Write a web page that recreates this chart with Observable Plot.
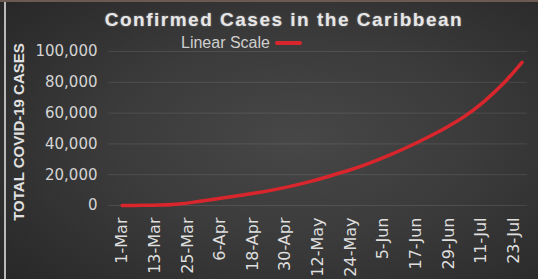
<!DOCTYPE html>
<html>
<head>
<meta charset="utf-8">
<script src="https://cdn.jsdelivr.net/npm/d3@7"></script>
<script src="https://cdn.jsdelivr.net/npm/@observablehq/plot@0.6"></script>
<style>
  html, body { margin: 0; padding: 0; background: #1e1e1e; }
  #chart {
    position: relative; width: 538px; height: 279px; overflow: hidden;
    background: radial-gradient(ellipse 75% 80% at 55% 50%, #474747 0%, #3b3b3b 45%, #262626 100%);
    font-family: "Liberation Sans", Arial, sans-serif;
  }
  #chart::before { content: ""; position: absolute; left: 4px; top: 0; bottom: 0; width: 2px; background: #b9b9b9; }
  #chart::after { content: ""; position: absolute; left: 0; right: 0; top: 0; height: 2px; background: #6b5a50; }
  #title {
    position: absolute; left: 0; width: 568px; top: 9px; text-align: center;
    color: #e6e6e6; font-weight: bold; font-size: 19px; letter-spacing: 1.5px;
    text-shadow: 0 0 2px #888;
  }
  #legend { position: absolute; left: 181px; top: 34px; color: #cfcfcf; font-size: 16px; display: flex; align-items: center; }
  #legend .sw { display: inline-block; width: 27px; height: 4px; background: #d8262c; margin-left: 5px; border-radius: 2px; }
  #ylabel {
    position: absolute; left: 18px; top: 132px; transform: translate(-50%, -50%) rotate(-90deg);
    white-space: nowrap; color: #e0e0e0; font-weight: bold; font-size: 15px;
  }
  #plot { position: absolute; left: 0; top: 0; }
  #plot svg { background: transparent; }
</style>
</head>
<body>
<div id="chart">
  <div id="plot"></div>
  <div id="title">Confirmed Cases in the Caribbean</div>
  <div id="legend"><span>Linear Scale</span><span class="sw"></span></div>
  <div id="ylabel">TOTAL COVID-19 CASES</div>
</div>
<script>
const dates = ["2020-03-01","2020-03-08","2020-03-15","2020-03-22","2020-03-29","2020-04-05","2020-04-12","2020-04-19","2020-04-26","2020-05-03","2020-05-10","2020-05-17","2020-05-24","2020-05-31","2020-06-07","2020-06-14","2020-06-21","2020-06-28","2020-07-05","2020-07-12","2020-07-19","2020-07-26"];
const cases = [0, 100, 300, 1000, 2600, 4400, 6200, 8100, 10300, 12900, 16000, 19500, 23200, 27500, 32500, 38000, 44000, 50500, 58000, 67500, 79000, 93000];
const tickDates = ["2020-03-01","2020-03-13","2020-03-25","2020-04-06","2020-04-18","2020-04-30","2020-05-12","2020-05-24","2020-06-05","2020-06-17","2020-06-29","2020-07-11","2020-07-23"];
const tickLabels = ["1-Mar","13-Mar","25-Mar","6-Apr","18-Apr","30-Apr","12-May","24-May","5-Jun","17-Jun","29-Jun","11-Jul","23-Jul"];
const yTicks = [0, 20000, 40000, 60000, 80000, 100000];

const data = dates.map((d, i) => ({date: new Date(d), cases: cases[i]}));
const tickD = tickDates.map(d => new Date(d));

const chart = Plot.plot({
  width: 538,
  height: 279,
  marginLeft: 108,
  marginRight: 11,
  marginTop: 51,
  marginBottom: 74,
  style: {background: "transparent", color: "#dcdcdc", fontFamily: "DejaVu Sans, sans-serif"},
  x: {type: "utc", domain: [new Date("2020-02-25"), new Date("2020-07-28")]},
  y: {domain: [0, 100000]},
  marks: [
    Plot.gridY(yTicks, {stroke: "#ffffff", strokeOpacity: 0.1}),
    Plot.axisY({ticks: yTicks, tickFormat: d3.format(","), tickSize: 0, tickPadding: 11, fontSize: 15, label: null, fill: "#d4d4d4"}),
    Plot.axisX({ticks: tickD, tickFormat: (d, i) => tickLabels[i], tickRotate: -90, tickSize: 0, tickPadding: 12, fontSize: 16, label: null, fill: "#dedede"}),
    Plot.line(data, {x: "date", y: "cases", stroke: "#d8262c", strokeWidth: 3.5, curve: "monotone-x"})
  ]
});
document.getElementById("plot").appendChild(chart);
</script>
</body>
</html>
